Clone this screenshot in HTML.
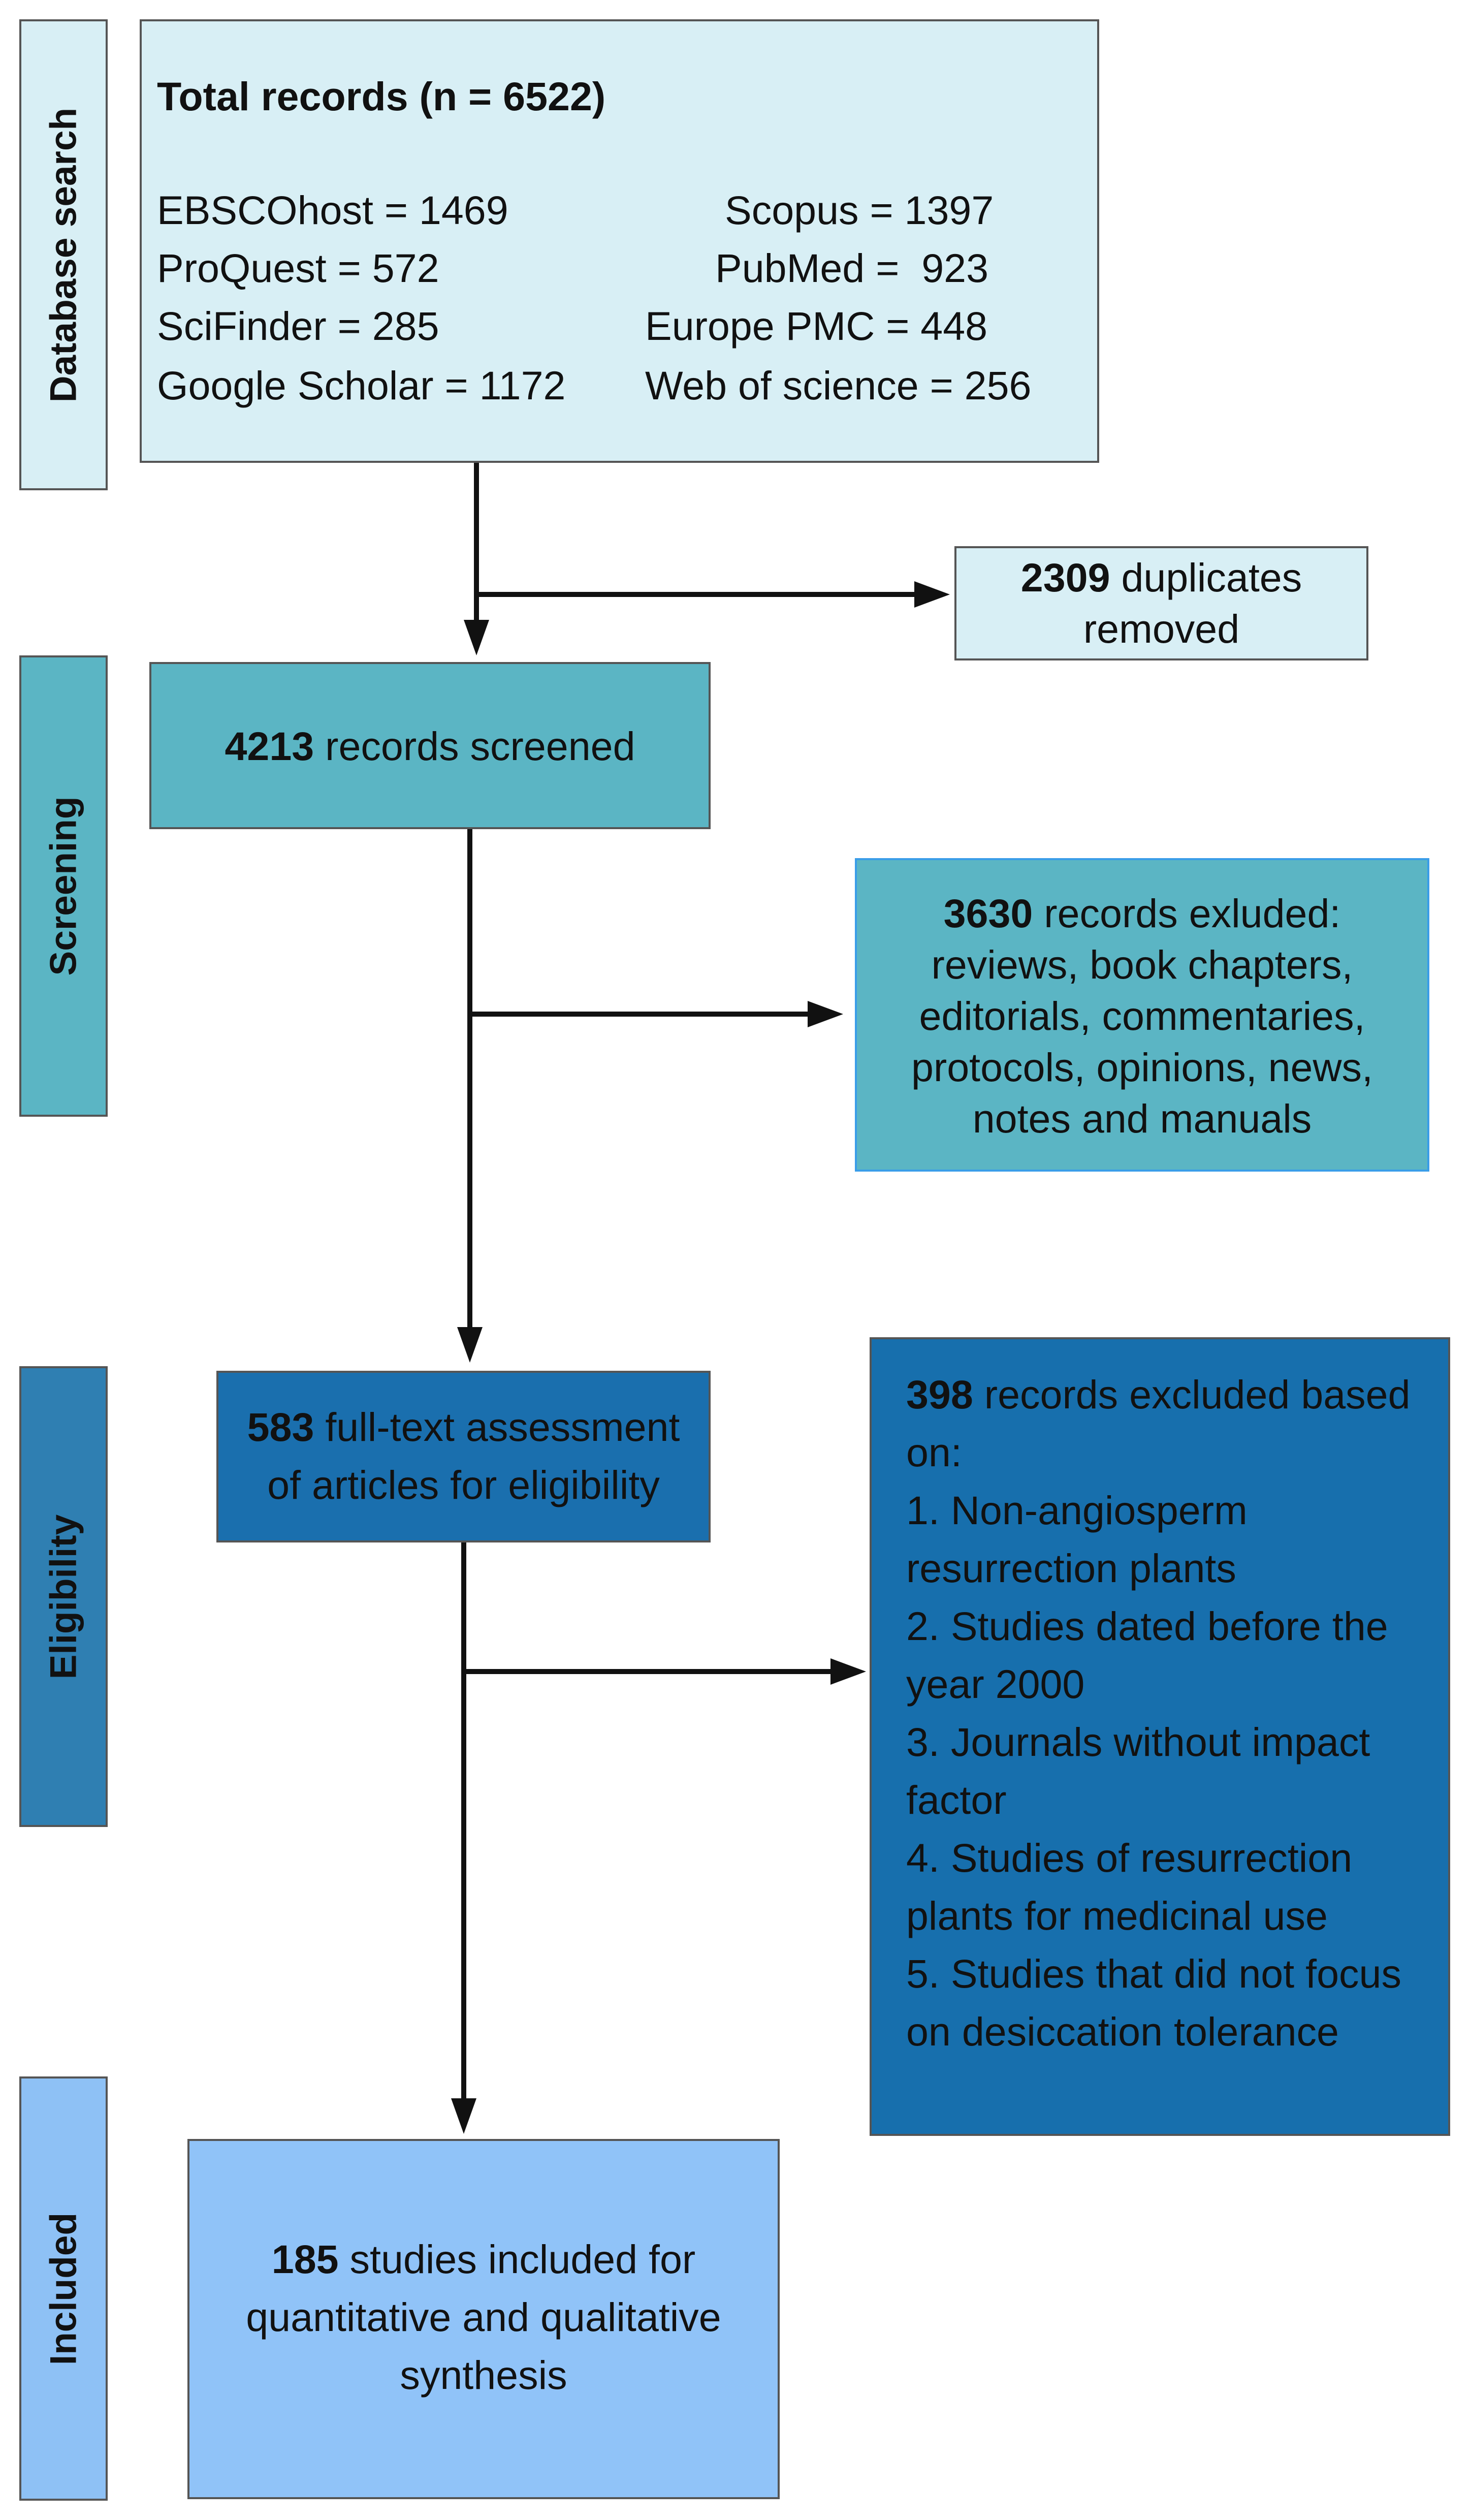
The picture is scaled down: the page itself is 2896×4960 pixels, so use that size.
<!DOCTYPE html>
<html><head><meta charset="utf-8"><style>
body{margin:0;width:2896px;height:4960px;background:#fff;position:relative;font-family:"Liberation Sans",sans-serif;color:#111;overflow:hidden}
.b{position:absolute;box-sizing:border-box;border:4px solid #555}
.lab{position:absolute;box-sizing:border-box;border:4px solid #555}
.lab span{position:absolute;left:50%;top:50%;transform:translate(-50%,-50%) rotate(-90deg);font-weight:bold;font-size:73px;white-space:nowrap;color:#111}
.t{position:absolute;font-size:79px;white-space:nowrap;line-height:80px;transform:translateY(-40px)}
.c{position:absolute;font-size:79px;text-align:center;line-height:101px;white-space:nowrap}
b{font-weight:bold}
</style></head><body>
<div class="lab" style="left:38px;top:38px;width:174px;height:927px;background:#d8eff5"><span>Database search</span></div>
<div class="b" style="left:275px;top:38px;width:1889px;height:873px;background:#d8eff5"></div>
<div class="t" style="left:309px;top:190px"><b>Total records (n = 6522)</b></div>
<div class="t" style="left:309px;top:414px">EBSCOhost = 1469</div>
<div class="t" style="left:309px;top:528px">ProQuest = 572</div>
<div class="t" style="left:309px;top:642px">SciFinder = 285</div>
<div class="t" style="left:309px;top:759px">Google Scholar = 1172</div>
<div class="t" style="left:1427px;top:414px">Scopus = 1397</div>
<div class="t" style="left:1408px;top:528px">PubMed = &nbsp;923</div>
<div class="t" style="left:1270px;top:642px">Europe PMC = 448</div>
<div class="t" style="left:1270px;top:759px">Web of science = 256</div>

<div class="b" style="left:1879px;top:1075px;width:815px;height:225px;background:#d8eff5"></div>
<div class="c" style="left:1879px;top:1086px;width:815px"><b>2309</b> duplicates<br>removed</div>

<div class="lab" style="left:38px;top:1290px;width:174px;height:908px;background:#5bb5c4"><span>Screening</span></div>
<div class="b" style="left:294px;top:1303px;width:1105px;height:329px;background:#5bb5c4"></div>
<div class="c" style="left:294px;top:1418px;width:1105px"><b>4213</b> records screened</div>

<div class="b" style="left:1683px;top:1689px;width:1131px;height:617px;background:#5bb5c4;border-color:#3a9de8"></div>
<div class="c" style="left:1683px;top:1747px;width:1131px"><b>3630</b> records exluded:<br>reviews, book chapters,<br>editorials, commentaries,<br>protocols, opinions, news,<br>notes and manuals</div>

<div class="lab" style="left:38px;top:2689px;width:174px;height:907px;background:#2f7fb2"><span>Eligibility</span></div>
<div class="b" style="left:426px;top:2698px;width:973px;height:338px;background:#1a6fae"></div>
<div class="c" style="left:426px;top:2752px;width:973px;line-height:114px"><b>583</b> full-text assessment<br>of articles for eligibility</div>

<div class="b" style="left:1712px;top:2632px;width:1143px;height:1572px;background:#176fad"></div>
<div style="position:absolute;left:1784px;top:2688px;font-size:79px;line-height:114px;white-space:nowrap"><b>398</b> records excluded based<br>on:<br>1. Non-angiosperm<br>resurrection plants<br>2. Studies dated before the<br>year 2000<br>3. Journals without impact<br>factor<br>4. Studies of resurrection<br>plants for medicinal use<br>5. Studies that did not focus<br>on desiccation tolerance</div>

<div class="lab" style="left:38px;top:4087px;width:174px;height:835px;background:#8ec1f5"><span>Included</span></div>
<div class="b" style="left:369px;top:4210px;width:1166px;height:709px;background:#90c3f8"></div>
<div class="c" style="left:369px;top:4390px;width:1166px;line-height:114px"><b>185</b> studies included for<br>quantitative and qualitative<br>synthesis</div>

<svg style="position:absolute;left:0;top:0" width="2896" height="4960">
<g stroke="#111" stroke-width="10" fill="none">
<line x1="938" y1="911" x2="938" y2="1230"/>
<line x1="938" y1="1170" x2="1810" y2="1170"/>
<line x1="925" y1="1632" x2="925" y2="2622"/>
<line x1="925" y1="1996" x2="1600" y2="1996"/>
<line x1="913" y1="3036" x2="913" y2="4140"/>
<line x1="913" y1="3290" x2="1645" y2="3290"/>
</g>
<g fill="#111">
<polygon points="913,1220 963,1220 938,1290"/>
<polygon points="1800,1144 1800,1196 1870,1170"/>
<polygon points="900,2612 950,2612 925,2682"/>
<polygon points="1590,1970 1590,2022 1660,1996"/>
<polygon points="888,4130 938,4130 913,4200"/>
<polygon points="1635,3264 1635,3316 1705,3290"/>
</g>
</svg>
</body></html>
